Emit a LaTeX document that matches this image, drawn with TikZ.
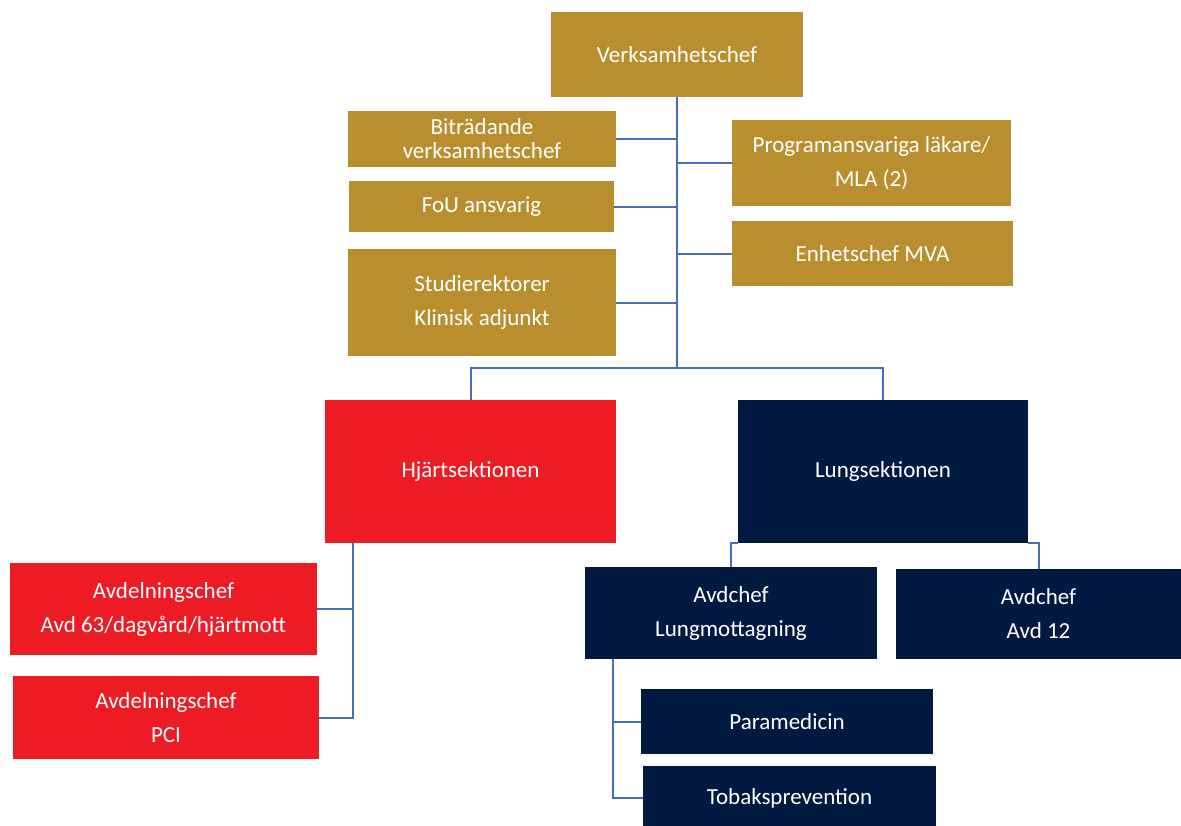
\documentclass[tikz,border=0pt]{standalone}
\usepackage{fontspec}
\setmainfont{Carlito}
\usepackage{xcolor}
\usepackage{tikz}
\usetikzlibrary{calc}
\definecolor{boxgold}{RGB}{185,142,46}
\definecolor{boxred}{RGB}{237,28,36}
\definecolor{boxnavy}{RGB}{2,26,65}
\definecolor{linkblue}{RGB}{72,110,184}

\begin{document}
\begin{tikzpicture}[
  x=0.5pt, y=-0.5pt,
  unit/.style={
    inner sep=2pt, align=center, text=white,
    font=\fontsize{11.5}{17}\selectfont
  },
  gold/.style={unit, fill=boxgold},
  heart/.style={unit, fill=boxred},
  lung/.style={unit, fill=boxnavy},
  link/.style={draw=linkblue, line width=1pt},
]
\clip (0,0) rectangle (1181,825);

%% ---- Management ----
\node[gold, minimum width=126pt, minimum height=42.5pt] (chef) at (677,54.5) {Verksamhetschef};
\node[gold, minimum width=134pt, minimum height=28pt, font=\fontsize{11.5}{12}\selectfont]
  (bitr) at (482,139) {Biträdande\\verksamhetschef};
\node[gold, minimum width=132.5pt, minimum height=25.5pt] (fou) at (481.5,206.5) {FoU ansvarig};
\node[gold, minimum width=134pt, minimum height=53.5pt] (studie) at (482,302.5) {Studierektorer\\Klinisk adjunkt};
\node[gold, minimum width=139.5pt, minimum height=43pt] (prog) at (871.5,163) {Programansvariga läkare/\\MLA (2)};
\node[gold, minimum width=140.5pt, minimum height=32.5pt] (mva) at (872.5,253.5) {Enhetschef MVA};

%% ---- Sections ----
\node[heart, minimum width=145.5pt, minimum height=71.5pt] (hjart) at (470.5,471.5) {Hjärtsektionen};
\node[lung, minimum width=145pt, minimum height=71.5pt] (lungs) at (883,471.5) {Lungsektionen};

%% ---- Heart units ----
\node[heart, minimum width=153.5pt, minimum height=46pt] (avd63) at (163.5,609) {Avdelningschef\\Avd 63/dagvård/hjärtmott};
\node[heart, minimum width=153pt, minimum height=41.5pt] (pci) at (166,717.5) {Avdelningschef\\PCI};

%% ---- Lung units ----
\node[lung, minimum width=146pt, minimum height=46pt] (lmott) at (731,613) {Avdchef\\Lungmottagning};
\node[lung, minimum width=142.5pt, minimum height=45pt] (avd12) at (1038.5,614) {Avdchef\\Avd 12};
\node[lung, minimum width=146pt, minimum height=32.5pt] (para) at (787,721.5) {Paramedicin};
\node[lung, minimum width=146.5pt, minimum height=32pt] (tobak) at (789.5,798) {Tobaksprevention};

%% ---- Trunk and staff branches ----
\coordinate (bus) at (chef.south |- 0,368);
\draw[link] (chef.south) -- (bus);
\draw[link] (bitr.east) -- (bitr.east -| chef.south);
\draw[link] (fou.east) -- (fou.east -| chef.south);
\draw[link] (studie.east) -- (studie.east -| chef.south);
\draw[link] (prog.west) -- (prog.west -| chef.south);
\draw[link] (mva.west) -- (mva.west -| chef.south);

%% ---- Section bar ----
\draw[link] (hjart.north) |- (bus) -| (lungs.north);

%% ---- Heart branch ----
\coordinate (hjtap) at ($(hjart.south west)+(28,0)$);
\draw[link] (hjtap) |- (pci.east);
\draw[link] (avd63.east) -- (avd63.east -| hjtap);

%% ---- Lung branches ----
\draw[link] (lungs.south west) -| (lmott.north);
\draw[link] (lungs.south east) -| (avd12.north);
\coordinate (lmtap) at ($(lmott.south west)+(28,0)$);
\draw[link] (lmtap) |- (tobak.west);
\draw[link] (para.west) -- (para.west -| lmtap);

\end{tikzpicture}
\end{document}
